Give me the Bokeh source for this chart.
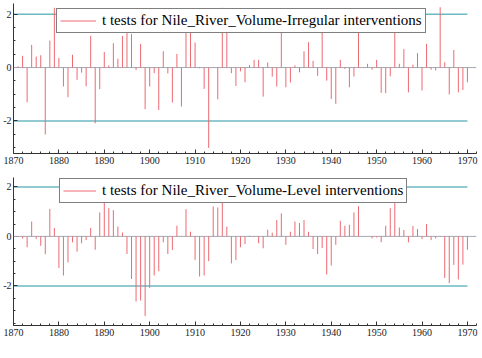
from bokeh.plotting import figure
from bokeh.models import FixedTicker, Legend, LegendItem, Span, Range1d
from bokeh.layouts import column
from bokeh.embed import file_html
from bokeh.resources import INLINE

years = list(range(1871, 1971))

irregular = [
    0.05, 0.44, -1.30, 0.85, 0.41, 0.46, -2.51, 1.01, 2.24, 0.36,
    -0.71, -1.11, 0.48, -0.46, -0.19, -0.70, 1.19, -2.09, -0.81, 0.58,
    0.08, 0.91, 0.33, 1.18, 1.36, 1.26, -0.09, 0.89, -1.56, -0.71,
    -0.21, -1.59, 0.61, -0.22, -1.31, 0.51, -1.46, 1.29, 1.41, 0.94,
    -0.03, -0.80, -3.01, 0.02, -1.19, 2.24, 1.99, -0.21, -0.69, -0.14,
    -0.55, 0.10, 0.29, 0.29, -1.09, 0.19, -0.34, -0.71, 1.58, -0.74,
    -0.56, 0.08, -0.18, 0.61, 0.95, 0.25, -0.31, 1.39, -0.49, -1.18,
    -1.36, 0.29, -0.05, -0.74, -0.34, 1.51, 0.02, 0.14, -0.08, 0.29,
    -0.95, -0.96, -0.33, 1.33, 0.14, 0.69, -0.93, 0.11, 0.54, -0.86,
    0.89, -0.08, -0.11, 2.26, 0.20, -1.01, 0.66, -0.93, -0.84, -0.55,
]

level = [
    -0.02, -0.08, -0.44, 0.60, -0.10, -0.38, -0.72, 1.11, 0.34, -1.28,
    -1.58, -1.05, -0.24, -0.62, -0.28, -0.15, 0.34, -0.54, 0.97, 1.57,
    1.14, 1.06, 0.40, 0.16, -0.71, -1.72, -2.63, -2.59, -3.22, -2.08,
    -1.58, -1.41, -0.24, -0.71, -0.55, 0.43, 0.02, 1.10, 0.19, -0.95,
    -1.62, -1.58, -1.00, 1.21, 1.17, 2.04, 0.39, -1.09, -0.95, -0.44,
    -0.31, 0.03, -0.02, -0.28, -0.48, 0.27, 0.15, 0.66, 0.93, -0.34,
    0.19, 0.60, 0.54, 0.66, 0.19, -0.51, -0.71, -0.47, -1.54, -1.18,
    -0.34, 0.63, 0.43, 0.47, 0.97, 1.22, 0.00, 0.00, -0.08, -0.04,
    -0.24, 0.43, 1.14, 1.37, 0.36, 0.26, -0.24, 0.42, 0.30, -0.11,
    0.50, -0.15, -0.08, -0.02, -1.68, -1.89, -1.15, -1.74, -1.14, -0.54,
]

ref_levels = [-2, 2]
x_ticks = list(range(1870, 1971, 10))
y_ticks = [-2, 0, 2]
y_tick_labels = {-2: "-2", 0: "0", 2: "2"}
labels = [
    "t tests for Nile_River_Volume-Irregular interventions",
    "t tests for Nile_River_Volume-Level interventions",
]

SPIKE = "#ec6a72"
TEAL = "#6cb9c1"
FONT = "Liberation Serif"


def make(vals, label, y_rng, frame_h, b_top, b_bottom, leg_loc, glyph_w):
    p = figure(output_backend="svg", toolbar_location=None,
               frame_width=463, frame_height=frame_h,
               x_range=Range1d(1870, 1972), y_range=Range1d(*y_rng),
               min_border_left=12, min_border_right=7,
               min_border_top=b_top, min_border_bottom=b_bottom)
    p.outline_line_color = None
    p.grid.visible = False
    p.background_fill_color = "white"
    p.border_fill_color = "white"

    zero = Span(location=0, dimension="width", line_color="#a3abb2", line_width=1)
    p.add_layout(zero)
    p.segment(x0=[years[0] - 1] * 2, y0=ref_levels, x1=[years[-1]] * 2, y1=ref_levels,
              line_color=TEAL, line_width=1.5)
    r = p.segment(x0=years, y0=[0] * len(years), x1=years, y1=vals,
                  line_color=SPIKE, line_width=1)
    r.level = "overlay"

    leg = Legend(items=[LegendItem(label=label, renderers=[r])], location=leg_loc)
    leg.border_line_color = "black"
    leg.border_line_width = 1
    leg.background_fill_color = "white"
    leg.background_fill_alpha = 1
    leg.label_text_font = FONT
    leg.label_text_font_size = "15px"
    leg.label_text_color = "black"
    leg.glyph_width = glyph_w
    leg.glyph_height = 11
    leg.label_height = 11
    leg.padding = 3
    leg.spacing = 0
    leg.margin = 0
    leg.label_standoff = 6
    p.add_layout(leg)

    for ax in (p.xaxis[0], p.yaxis[0]):
        ax.axis_line_color = "#333333"
        ax.major_tick_line_color = "#333333"
        ax.minor_tick_line_color = "#333333"
        ax.major_tick_in = 4
        ax.major_tick_out = 0
        ax.minor_tick_in = 2
        ax.minor_tick_out = 0
        ax.major_label_text_font = FONT
        ax.major_label_text_font_size = "10px"
        ax.major_label_text_color = "#222222"
    p.xaxis.major_label_standoff = 3
    p.yaxis.major_label_standoff = 2
    p.xaxis.ticker = FixedTicker(ticks=x_ticks, minor_ticks=list(range(1870, 1973, 2)))
    p.yaxis.ticker = FixedTicker(ticks=y_ticks, minor_ticks=[i / 2 for i in range(-7, 5)])
    p.yaxis.major_label_overrides = y_tick_labels
    return p


p1 = make(irregular, labels[0], (-3.22, 2.40), 150, 3, 17, (43, 120), 36)
p2 = make(level, labels[1], (-3.60, 2.38), 148, 7, 33, (46, 122), 33)

layout = column(p1, p2, spacing=0)
open("out.html", "w").write(file_html(layout, INLINE))
